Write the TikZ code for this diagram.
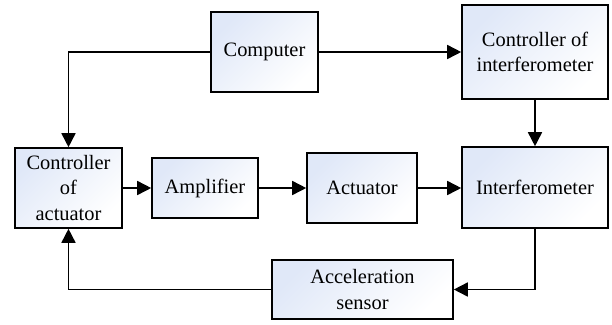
\documentclass[tikz,border=0pt]{standalone}
\usepackage{fontspec}
\setmainfont{Liberation Serif}
\usetikzlibrary{arrows.meta}
\definecolor{boxblue}{RGB}{224,232,248}
\begin{document}
\begin{tikzpicture}[x=1bp,y=-1bp,
  blk/.style={draw=black, line width=1.6bp, top color=boxblue, bottom color=white, shading angle=45,
    inner sep=0pt, align=center, font=\fontsize{20.5}{25.5}\selectfont},
  conn/.style={draw=black, line width=1.6bp, -{Triangle[length=14bp,width=14bp]}}]
\useasboundingbox (0,0) rectangle (612,324);
\node[blk, minimum width=107bp, minimum height=80bp] (comp) at (264.5,52) {Computer};
\node[blk, minimum width=146bp, minimum height=94bp] (cint) at (535,52) {Controller of\\interferometer};
\node[blk, minimum width=146bp, minimum height=81bp] (intf) at (535,187.5) {Interferometer};
\node[blk, minimum width=107bp, minimum height=80bp] (cact) at (68.5,188) {Controller\\of\\actuator};
\node[blk, minimum width=106bp, minimum height=60bp] (amp) at (205,188) {Amplifier};
\node[blk, minimum width=110bp, minimum height=70bp] (act) at (362,188) {Actuator};
\node[blk, minimum width=181bp, minimum height=59bp] (sens) at (362.5,289.5) {Acceleration\\sensor};
\draw[conn] (comp.west) -| (cact.north);
\draw[conn] (comp.east) -- (cint.west);
\draw[conn] (cint.south) -- (intf.north);
\draw[conn] (cact.east) -- (amp.west);
\draw[conn] (amp.east) -- (act.west);
\draw[conn] (act.east) -- (act.east -| intf.west);
\draw[conn] (intf.south) |- (sens.east);
\draw[conn] (sens.west) -| (cact.south);
\end{tikzpicture}
\end{document}
